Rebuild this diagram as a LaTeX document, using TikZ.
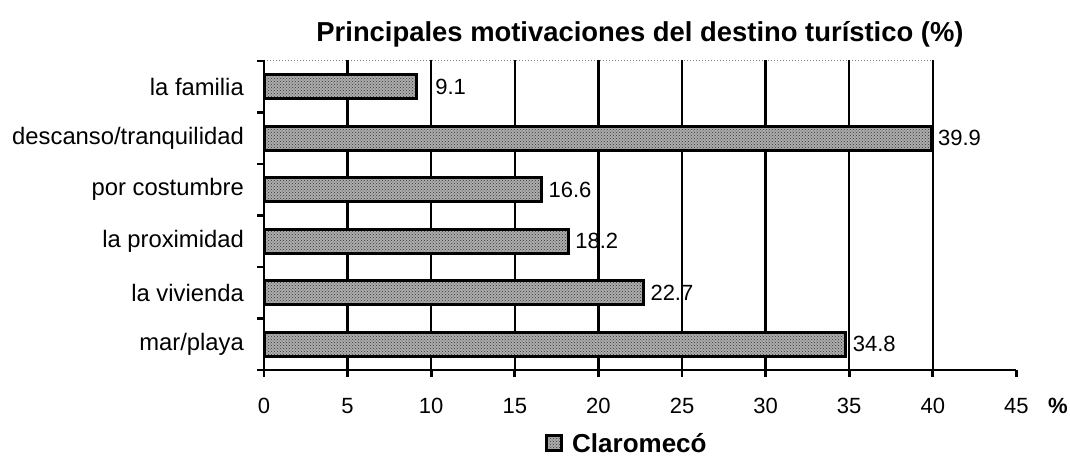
\documentclass[tikz,border=0pt]{standalone}
\usepackage{fontspec}
\setmainfont{Liberation Sans}
\usetikzlibrary{patterns}
\begin{document}
\begin{tikzpicture}[x=1pt,y=-1pt,
  bar/.style={draw=black,line width=3pt,preaction={fill=black!32},pattern=crosshatch dots,pattern color=black!80},
  gridline/.style={line width=2.4pt},
  axisline/.style={line width=2.8pt},
  cat/.style={anchor=east,font=\fontsize{23.8}{27}\selectfont,inner sep=0pt},
  val/.style={anchor=east,font=\fontsize{22}{26}\selectfont,inner sep=0pt},
  ticklab/.style={font=\fontsize{22}{26}\selectfont,inner sep=0pt},
  ttl/.style={font=\bfseries\fontsize{27.4}{31}\selectfont,inner sep=0pt}]
\useasboundingbox (0,0) rectangle (1070,458);
% title
\node[ttl] (title) at (640,34) {Principales motivaciones del destino turístico (\%)};
% top border (faint dotted)
\draw[gray,dotted,line width=1pt] (264,60) -- (932,60);
% gridlines
\foreach \v in {5,10,...,40}
  \draw[gridline] ({264+\v*16.72},60) -- ({264+\v*16.72},370);
% bars, values and category labels
\foreach \v/\i/\lab in {9.1/0/{la familia},39.9/1/{descanso/tranquilidad},16.6/2/{por costumbre},18.2/3/{la proximidad},22.7/4/{la vivienda},34.8/5/{mar/playa}}{
  \pgfmathsetmacro\c{61+51.5*(\i+0.5)}
  \draw[bar] (264,{\c-12}) rectangle ({264+\v*16.72},{\c+12});
  \node[val] (val\i) at ({264+\v*16.72+50},\c) {\v};
  \node[cat] (cat\i) at (244,\c) {\lab};
}
% axes
\draw[axisline] (264,60) -- (264,370) -- (1016,370);
\foreach \i in {0,...,6}
  \draw[axisline] (257,{61+51.5*\i}) -- (264,{61+51.5*\i});
\foreach \v in {0,5,...,45}{
  \draw[axisline] ({264+\v*16.72},370) -- ({264+\v*16.72},377);
  \node[ticklab] (tick\v) at ({264+\v*16.72},406) {\v};
}
\node[ticklab,font=\bfseries\fontsize{22}{26}\selectfont] (pct) at (1058,406) {\%};
% legend
\node[draw=black,line width=2.2pt,preaction={fill=black!32},pattern=crosshatch dots,pattern color=black!80,minimum size=15pt,inner sep=0pt] (legsq) at (554,443) {};
\node[anchor=west,inner sep=0pt,font=\bfseries\fontsize{26}{30}\selectfont] (legtxt) at (572,443) {Claromecó};
\end{tikzpicture}
\end{document}
